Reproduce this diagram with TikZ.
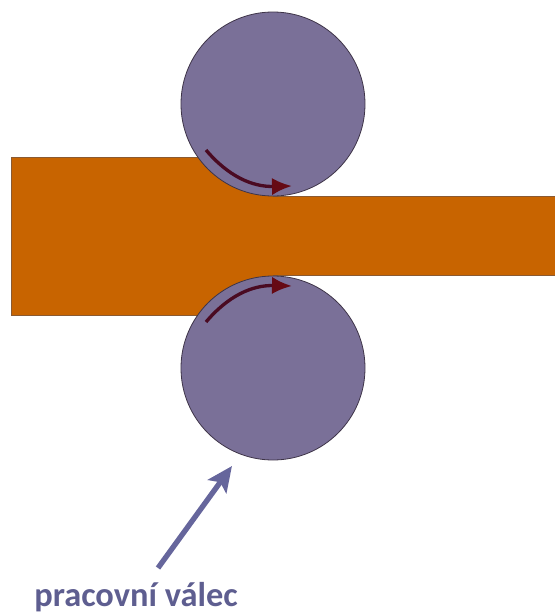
\documentclass[tikz,border=0pt]{standalone}
\usepackage{fontspec}
\setmainfont{Carlito}
\usetikzlibrary{arrows.meta,positioning}
\definecolor{Strip}{HTML}{C86400}
\definecolor{StripEdge}{HTML}{8A5A32}
\definecolor{Roller}{HTML}{7A7098}
\definecolor{RollerEdge}{HTML}{3E3448}
\definecolor{Spin}{HTML}{4A0A22}
\definecolor{SpinTip}{HTML}{660A14}
\definecolor{Pointer}{HTML}{66669C}
\begin{document}
\begin{tikzpicture}[
      x=0.75pt,y=-0.75pt,
      roller/.style={circle,draw=RollerEdge,fill=Roller,line width=0.6pt,minimum size=138pt,inner sep=0pt},
      spin/.style={-{Latex[length=15pt,width=13pt,color=SpinTip]},line width=2.5pt,color=Spin},
      pointer/.style={-{Stealth[length=19pt,width=17pt,inset=4pt]},line width=4pt,color=Pointer},
      caption/.style={font=\bfseries\fontsize{25.8}{28}\selectfont,text=Pointer!92!black,inner sep=0pt}
    ]
      \useasboundingbox (0,0) rectangle (554,614);
      \draw[draw=StripEdge,fill=Strip,line width=0.6pt]
        (11,157) -- (273,157) -- (273,196) -- (556,196) -- (556,275)
        -- (273,275) -- (273,315) -- (11,315) -- cycle;
      \node[roller] (top) at (273,104) {};
      \node[roller] (bottom) at (273,368) {};
      \coordinate (topstart) at (206,150);
      \coordinate (topend) at (292,186);
      \coordinate (botstart) at (206,322);
      \coordinate (botend) at (292,286);
      \draw[spin] (topstart) .. controls (228,176) and (252,187) .. (topend);
      \draw[spin] (botstart) .. controls (228,296) and (252,285) .. (botend);
      \node[caption] (label) at (136,597) {pracovní válec};
      \coordinate (tail) at (158,568);
      \coordinate (head) at (232,466);
      \draw[pointer] (tail) -- (head);
    \end{tikzpicture}
\end{document}
